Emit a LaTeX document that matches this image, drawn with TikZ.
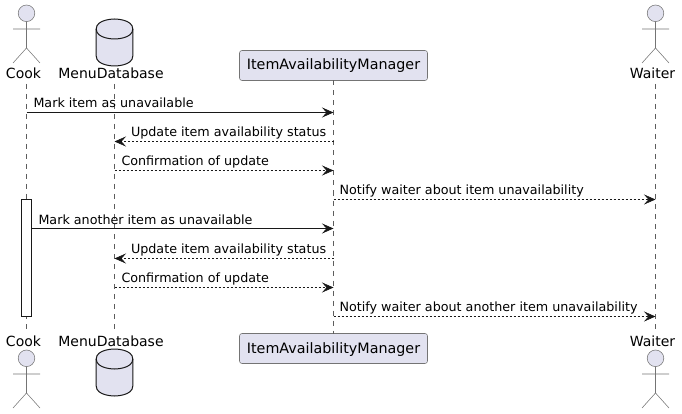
\documentclass[tikz,border=0pt]{standalone}
\usepackage{fontspec}
\setmainfont{DejaVu Sans}
\usetikzlibrary{arrows.meta,calc}
\definecolor{ln}{HTML}{181818}
\definecolor{pf}{HTML}{E2E2F0}
\tikzset{
  x=1pt,y=-1pt,
  every node/.style={inner sep=0pt,outer sep=0pt,text=black},
  lifeline/.style={draw=ln!70!white,line width=.5pt,dash pattern=on 5pt off 5pt},
  partname/.style={font=\fontsize{14}{14}\selectfont,anchor=base},
  msgtext/.style={font=\fontsize{12.72}{13}\selectfont,anchor=base west},
  actorline/.style={draw=ln!60!white,line width=.55pt},
  actorhead/.style={draw=ln!60!white,line width=.55pt,fill=pf},
  dbshape/.style={draw=ln,line width=1pt,fill=pf},
  partbox/.style={draw=ln!60!white,line width=.55pt,fill=pf,rounded corners=2.5pt,minimum width=188pt,minimum height=30pt,text height=11pt,text depth=2pt,font=\fontsize{14.3}{14}\selectfont},
  msg/.style={draw=ln,line width=.7pt,-{Stealth[length=11.5pt,width=10pt,inset=4.5pt]}},
  reply/.style={msg,line width=.55pt,dash pattern=on 2pt off 2pt},
  actbox/.style={draw=ln,line width=.7pt,fill=white},
}
\newcommand{\actorfig}[2]{%
  \draw[actorhead] (#1,#2+8.3) circle[radius=8.3];
  \draw[actorline] (#1,#2+16.6) -- (#1,#2+43) (#1-13.5,#2+24) -- (#1+13.5,#2+24)
     (#1-13.5,#2+58) -- (#1,#2+43) -- (#1+13.5,#2+58);
}
\newcommand{\dbfig}[2]{%
  \draw[dbshape] (#1-18.3,#2+10) .. controls (#1-18.3,#2) and (#1,#2) .. (#1,#2)
     .. controls (#1,#2) and (#1+18.3,#2) .. (#1+18.3,#2+10)
     -- (#1+18.3,#2+37) .. controls (#1+18.3,#2+47) and (#1,#2+47) .. (#1,#2+47)
     .. controls (#1,#2+47) and (#1-18.3,#2+47) .. (#1-18.3,#2+37) -- cycle;
  \draw[dbshape,fill=none] (#1-18.3,#2+10) .. controls (#1-18.3,#2+20) and (#1,#2+20) .. (#1,#2+20)
     .. controls (#1,#2+20) and (#1+18.3,#2+20) .. (#1+18.3,#2+10);
}
\begin{document}
\begin{tikzpicture}
\useasboundingbox (0,0) rectangle (682,414);
% lifeline ends
\coordinate (cookA) at (26.5,84);
\coordinate (cookB) at (26.5,333);
\coordinate (dbA) at (114.5,84);
\coordinate (dbB) at (114.5,333);
\coordinate (waitA) at (655.5,84);
\coordinate (waitB) at (655.5,333);
\node[partbox] (mgrT) at (333.5,65.5) {ItemAvailabilityManager};
\node[partbox] (mgrB) at (333.5,348.5) {ItemAvailabilityManager};
\draw[lifeline] (cookA) -- (cookB);
\draw[lifeline] (dbA) -- (dbB);
\draw[lifeline] (mgrT.south) -- (mgrB.north);
\draw[lifeline] (waitA) -- (waitB);
% participants
\actorfig{26.5}{5}
\actorfig{26.5}{350}
\actorfig{655.5}{5}
\actorfig{655.5}{350}
\dbfig{114.5}{19}
\dbfig{114.5}{349}
\node[partname] (cookT) at (23.5,78.5) {Cook};
\node[partname] (cookBn) at (23.5,346) {Cook};
\node[partname] (dbT) at (111,78.5) {MenuDatabase};
\node[partname] (dbBn) at (111,346) {MenuDatabase};
\node[partname] (waitT) at (652.5,78.5) {Waiter};
\node[partname] (waitBn) at (652.5,346) {Waiter};
% activation
\node[actbox,minimum width=10pt,minimum height=117pt] (act) at (26,258) {};
% anchors
\foreach \n/\y in {1/112.5,2/141.5,3/170.5,4/199.5,5/228.5,6/258.5,7/287.5,8/316.5}{
  \coordinate (c\n) at (26.5,\y);
  \coordinate (d\n) at (114.5,\y);
  \coordinate (m\n) at (333.5,\y);
  \coordinate (w\n) at (655.5,\y);
}
\coordinate (a5) at (31,228.5);
\draw[msg] (c1) -- (m1);
\draw[reply] (m2) -- (d2);
\draw[reply] (d3) -- (m3);
\draw[reply] (m4) -- (w4);
\draw[msg] (a5) -- (m5);
\draw[reply] (m6) -- (d6);
\draw[reply] (d7) -- (m7);
\draw[reply] (m8) -- (w8);
\node[msgtext] (t1) at (33.5,107.5) {Mark item as unavailable};
\node[msgtext] (t2) at (131,136.5) {Update item availability status};
\node[msgtext] (t3) at (121.5,165.5) {Confirmation of update};
\node[msgtext] (t4) at (339.5,194.5) {Notify waiter about item unavailability};
\node[msgtext] (t5) at (38.5,224) {Mark another item as unavailable};
\node[msgtext] (t6) at (131,253.5) {Update item availability status};
\node[msgtext] (t7) at (121.5,282.5) {Confirmation of update};
\node[msgtext] (t8) at (339.5,311.5) {Notify waiter about another item unavailability};
\end{tikzpicture}
\end{document}
